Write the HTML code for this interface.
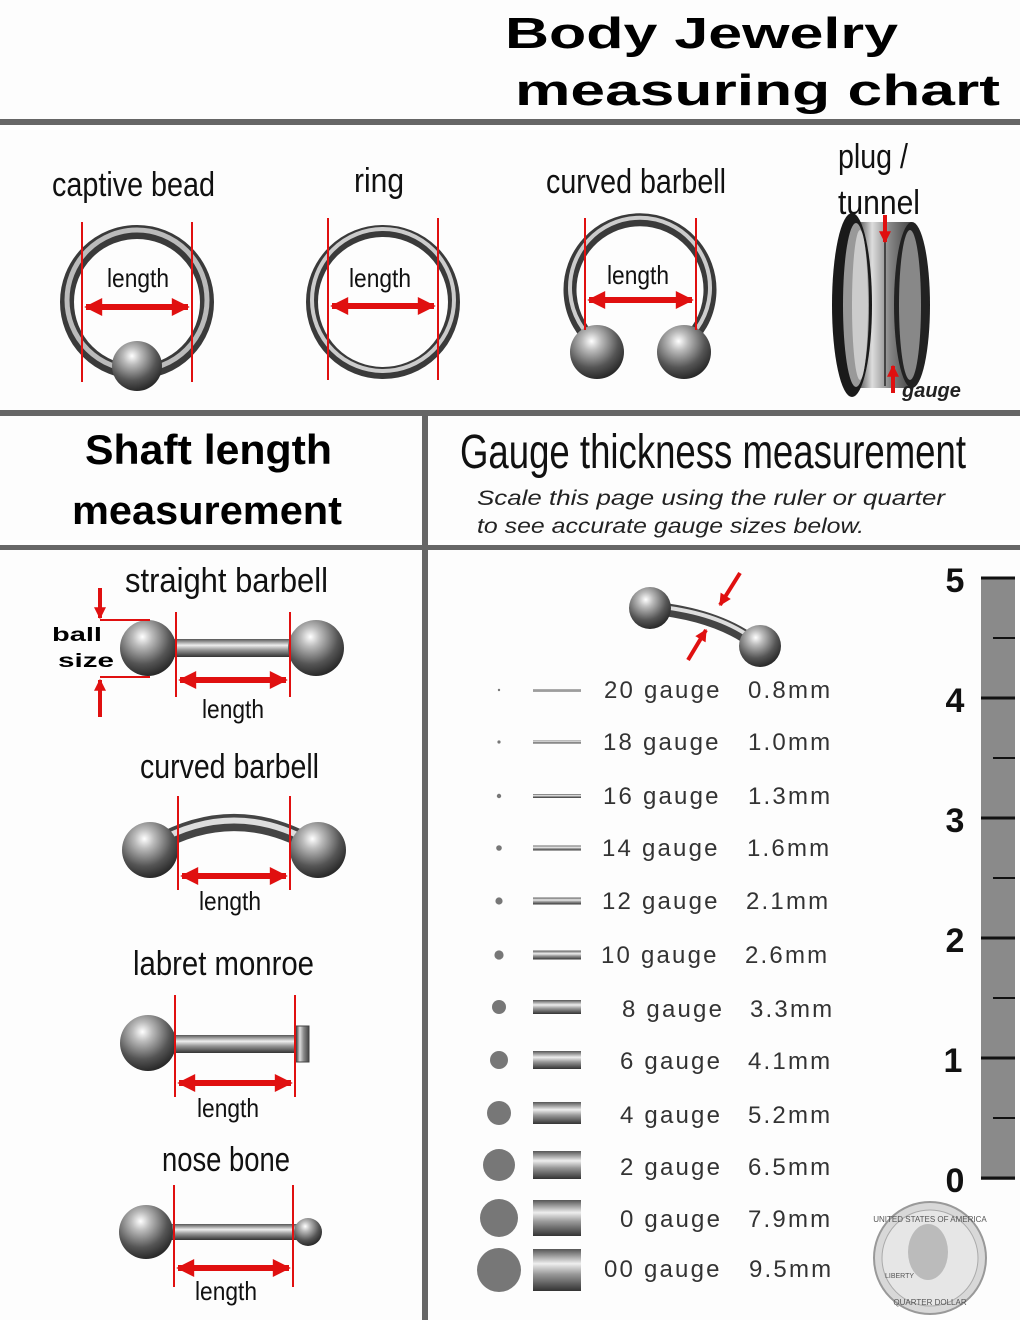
<!DOCTYPE html>
<html><head><meta charset="utf-8"><style>
html,body{margin:0;padding:0;background:#fdfdfd;}
svg{display:block}
.h{font-family:"Liberation Sans Narrow","Liberation Sans",sans-serif;fill:#111;}
.g{font-family:"Liberation Sans",sans-serif;font-size:24px;fill:#333;letter-spacing:2.2px;}
.r{stroke:#e01010;}
</style></head><body>
<svg width="1020" height="1320" viewBox="0 0 1020 1320" xmlns="http://www.w3.org/2000/svg">
<defs>
<radialGradient id="ball" cx="0.4" cy="0.3" r="0.7">
<stop offset="0" stop-color="#fff"/><stop offset="0.25" stop-color="#bbb"/><stop offset="0.7" stop-color="#555"/><stop offset="1" stop-color="#2a2a2a"/></radialGradient>
<linearGradient id="bar" x1="0" y1="0" x2="0" y2="1">
<stop offset="0" stop-color="#555"/><stop offset="0.35" stop-color="#eee"/><stop offset="0.6" stop-color="#999"/><stop offset="1" stop-color="#333"/></linearGradient>
<linearGradient id="plug" x1="0" y1="0" x2="1" y2="0">
<stop offset="0" stop-color="#333"/><stop offset="0.3" stop-color="#ddd"/><stop offset="0.6" stop-color="#888"/><stop offset="1" stop-color="#444"/></linearGradient>
<marker id="ah" viewBox="0 0 10 10" refX="9" refY="5" markerWidth="3.2" markerHeight="3" orient="auto-start-reverse"><path d="M0,0L10,5L0,10z" fill="#e01010"/></marker>
</defs>
<rect width="1020" height="1320" fill="#fdfdfd"/>
<text x="505" y="48" font-family="Liberation Sans,sans-serif" font-weight="bold" font-size="44" textLength="393" lengthAdjust="spacingAndGlyphs">Body Jewelry</text>
<text x="515" y="105" font-family="Liberation Sans,sans-serif" font-weight="bold" font-size="44" textLength="485" lengthAdjust="spacingAndGlyphs">measuring chart</text>
<rect x="0" y="119" width="1020" height="6" fill="#666"/>
<rect x="0" y="410" width="1020" height="6" fill="#666"/>
<rect x="0" y="545" width="1020" height="5" fill="#666"/>
<rect x="422" y="416" width="6" height="904" fill="#666"/>

<text class="h" x="52" y="196" font-size="34" textLength="163" lengthAdjust="spacingAndGlyphs">captive bead</text>
<text class="h" x="354" y="192" font-size="34" textLength="50" lengthAdjust="spacingAndGlyphs">ring</text>
<text class="h" x="546" y="193" font-size="34" textLength="180" lengthAdjust="spacingAndGlyphs">curved barbell</text>
<text class="h" x="838" y="168" font-size="34" textLength="70" lengthAdjust="spacingAndGlyphs">plug /</text>
<text class="h" x="838" y="214" font-size="34" textLength="82" lengthAdjust="spacingAndGlyphs">tunnel</text>

<!-- captive bead -->
<circle cx="137" cy="302" r="70" fill="none" stroke="#3a3a3a" stroke-width="14"/>
<circle cx="137" cy="300" r="70" fill="none" stroke="#bbb" stroke-width="5"/>
<circle cx="137" cy="366" r="25" fill="url(#ball)"/>
<line class="r" x1="82" y1="222" x2="82" y2="382" style="stroke-width:2"/><line class="r" x1="192" y1="222" x2="192" y2="382" style="stroke-width:2"/>
<line class="r" x1="86" y1="307" x2="188" y2="307" style="stroke-width:6" marker-start="url(#ah)" marker-end="url(#ah)"/>
<text class="h" x="107" y="287" font-size="26" textLength="62" lengthAdjust="spacingAndGlyphs">length</text>
<!-- ring -->
<circle cx="383" cy="302" r="71" fill="none" stroke="#3a3a3a" stroke-width="12"/>
<circle cx="383" cy="300" r="71" fill="none" stroke="#ccc" stroke-width="4"/>
<line class="r" x1="328" y1="218" x2="328" y2="380" style="stroke-width:2"/><line class="r" x1="438" y1="218" x2="438" y2="380" style="stroke-width:2"/>
<line class="r" x1="332" y1="306" x2="434" y2="306" style="stroke-width:6" marker-start="url(#ah)" marker-end="url(#ah)"/>
<text class="h" x="349" y="287" font-size="26" textLength="62" lengthAdjust="spacingAndGlyphs">length</text>
<!-- curved barbell top -->
<path d="M597,345 A70,70 0 1 1 683,345" fill="none" stroke="#3a3a3a" stroke-width="13"/>
<path d="M597,343 A70,70 0 1 1 683,343" fill="none" stroke="#ccc" stroke-width="4"/>
<circle cx="597" cy="352" r="27" fill="url(#ball)"/><circle cx="684" cy="352" r="27" fill="url(#ball)"/>
<line class="r" x1="585" y1="218" x2="585" y2="330" style="stroke-width:2"/><line class="r" x1="696" y1="218" x2="696" y2="330" style="stroke-width:2"/>
<line class="r" x1="589" y1="300" x2="692" y2="300" style="stroke-width:6" marker-start="url(#ah)" marker-end="url(#ah)"/>
<text class="h" x="607" y="284" font-size="26" textLength="62" lengthAdjust="spacingAndGlyphs">length</text>
<!-- plug -->
<rect x="855" y="222" width="57" height="166" fill="url(#plug)"/>
<ellipse cx="912" cy="305" rx="18" ry="83" fill="#222"/>
<ellipse cx="910" cy="305" rx="11" ry="75" fill="#888"/>
<ellipse cx="852" cy="305" rx="20" ry="92" fill="#1a1a1a"/>
<ellipse cx="856" cy="305" rx="13" ry="82" fill="#999"/>
<ellipse cx="860" cy="305" rx="8" ry="75" fill="#ccc"/>
<line x1="885" y1="226" x2="885" y2="386" stroke="#444" stroke-width="2"/>
<line x1="885" y1="215" x2="885" y2="242" stroke="#e01010" stroke-width="4" marker-end="url(#ah)"/>
<line x1="893" y1="393" x2="893" y2="366" stroke="#e01010" stroke-width="4" marker-end="url(#ah)"/>
<text x="902" y="397" font-family="Liberation Sans,sans-serif" font-style="italic" font-weight="bold" font-size="20" fill="#222">gauge</text>

<text x="85" y="464" font-family="Liberation Sans,sans-serif" font-weight="bold" font-size="42" textLength="247" lengthAdjust="spacingAndGlyphs">Shaft length</text>
<text x="72" y="524" font-family="Liberation Sans,sans-serif" font-weight="bold" font-size="40" textLength="270" lengthAdjust="spacingAndGlyphs">measurement</text>
<text class="h" x="460" y="468" font-size="48" textLength="506" lengthAdjust="spacingAndGlyphs">Gauge thickness measurement</text>
<text x="477" y="505" font-family="Liberation Sans,sans-serif" font-style="italic" font-size="21" fill="#222" textLength="468" lengthAdjust="spacingAndGlyphs">Scale this page using the ruler or quarter</text>
<text x="477" y="533" font-family="Liberation Sans,sans-serif" font-style="italic" font-size="21" fill="#222" textLength="387" lengthAdjust="spacingAndGlyphs">to see accurate gauge sizes below.</text>

<!-- straight barbell -->
<text class="h" x="125" y="592" font-size="34" textLength="203" lengthAdjust="spacingAndGlyphs">straight barbell</text>
<rect x="170" y="639" width="125" height="18" fill="url(#bar)"/>
<circle cx="148" cy="648" r="28" fill="url(#ball)"/><circle cx="316" cy="648" r="28" fill="url(#ball)"/>
<line class="r" x1="100" y1="620" x2="150" y2="620" style="stroke-width:2"/><line class="r" x1="100" y1="677" x2="150" y2="677" style="stroke-width:2"/>
<line x1="100" y1="588" x2="100" y2="618" stroke="#e01010" stroke-width="4" marker-end="url(#ah)"/>
<line x1="100" y1="717" x2="100" y2="680" stroke="#e01010" stroke-width="4" marker-end="url(#ah)"/>
<text x="52" y="641" font-family="Liberation Sans,sans-serif" font-weight="bold" font-size="19" textLength="50" lengthAdjust="spacingAndGlyphs">ball</text>
<text x="58" y="667" font-family="Liberation Sans,sans-serif" font-weight="bold" font-size="19" textLength="56" lengthAdjust="spacingAndGlyphs">size</text>
<line class="r" x1="176" y1="612" x2="176" y2="697" style="stroke-width:2"/><line class="r" x1="290" y1="612" x2="290" y2="697" style="stroke-width:2"/>
<line class="r" x1="180" y1="680" x2="286" y2="680" style="stroke-width:6" marker-start="url(#ah)" marker-end="url(#ah)"/>
<text class="h" x="202" y="718" font-size="26" textLength="62" lengthAdjust="spacingAndGlyphs">length</text>
<!-- curved barbell -->
<text class="h" x="140" y="778" font-size="34" textLength="179" lengthAdjust="spacingAndGlyphs">curved barbell</text>
<path d="M155,845 Q234,800 313,845" fill="none" stroke="#444" stroke-width="17"/>
<path d="M155,843 Q234,798 313,843" fill="none" stroke="#ddd" stroke-width="6"/>
<circle cx="150" cy="850" r="28" fill="url(#ball)"/><circle cx="318" cy="850" r="28" fill="url(#ball)"/>
<line class="r" x1="178" y1="796" x2="178" y2="890" style="stroke-width:2"/><line class="r" x1="290" y1="796" x2="290" y2="890" style="stroke-width:2"/>
<line class="r" x1="182" y1="876" x2="286" y2="876" style="stroke-width:6" marker-start="url(#ah)" marker-end="url(#ah)"/>
<text class="h" x="199" y="910" font-size="26" textLength="62" lengthAdjust="spacingAndGlyphs">length</text>
<!-- labret -->
<text class="h" x="133" y="975" font-size="34" textLength="181" lengthAdjust="spacingAndGlyphs">labret monroe</text>
<rect x="170" y="1035" width="128" height="18" fill="url(#bar)"/>
<rect x="296" y="1026" width="13" height="36" fill="url(#plug)" stroke="#444"/>
<circle cx="148" cy="1043" r="28" fill="url(#ball)"/>
<line class="r" x1="175" y1="995" x2="175" y2="1097" style="stroke-width:2"/><line class="r" x1="295" y1="995" x2="295" y2="1097" style="stroke-width:2"/>
<line class="r" x1="179" y1="1083" x2="291" y2="1083" style="stroke-width:6" marker-start="url(#ah)" marker-end="url(#ah)"/>
<text class="h" x="197" y="1117" font-size="26" textLength="62" lengthAdjust="spacingAndGlyphs">length</text>
<!-- nose bone -->
<text class="h" x="162" y="1171" font-size="34" textLength="128" lengthAdjust="spacingAndGlyphs">nose bone</text>
<rect x="170" y="1224" width="130" height="16" fill="url(#bar)"/>
<circle cx="146" cy="1232" r="27" fill="url(#ball)"/><circle cx="308" cy="1232" r="14" fill="url(#ball)"/>
<line class="r" x1="174" y1="1185" x2="174" y2="1287" style="stroke-width:2"/><line class="r" x1="293" y1="1185" x2="293" y2="1287" style="stroke-width:2"/>
<line class="r" x1="178" y1="1268" x2="289" y2="1268" style="stroke-width:6" marker-start="url(#ah)" marker-end="url(#ah)"/>
<text class="h" x="195" y="1300" font-size="26" textLength="62" lengthAdjust="spacingAndGlyphs">length</text>

<!-- gauge top barbell -->
<path d="M652,608 Q720,615 757,645" fill="none" stroke="#444" stroke-width="13"/>
<path d="M652,606 Q720,612 757,642" fill="none" stroke="#ddd" stroke-width="4"/>
<circle cx="650" cy="608" r="21" fill="url(#ball)"/><circle cx="760" cy="646" r="21" fill="url(#ball)"/>
<line x1="740" y1="573" x2="720" y2="605" stroke="#e01010" stroke-width="4" marker-end="url(#ah)"/>
<line x1="688" y1="660" x2="706" y2="630" stroke="#e01010" stroke-width="4" marker-end="url(#ah)"/>

<g>
<circle cx="499" cy="690" r="1.2" fill="#777"/><rect x="533" y="689" width="48" height="2.5" fill="url(#bar)"/>
<text class="g" x="604" y="698">20 gauge</text><text class="g" x="748" y="698">0.8mm</text>
<circle cx="499" cy="742" r="1.6" fill="#777"/><rect x="533" y="740.5" width="48" height="3" fill="url(#bar)"/>
<text class="g" x="603" y="750">18 gauge</text><text class="g" x="748" y="750">1.0mm</text>
<circle cx="499" cy="796" r="2.2" fill="#777"/><rect x="533" y="794" width="48" height="4" fill="url(#bar)"/>
<text class="g" x="603" y="804">16 gauge</text><text class="g" x="748" y="804">1.3mm</text>
<circle cx="499" cy="848" r="2.8" fill="#777"/><rect x="533" y="845.5" width="48" height="5" fill="url(#bar)"/>
<text class="g" x="602" y="856">14 gauge</text><text class="g" x="747" y="856">1.6mm</text>
<circle cx="499" cy="901" r="3.6" fill="#777"/><rect x="533" y="897.5" width="48" height="7" fill="url(#bar)"/>
<text class="g" x="602" y="909">12 gauge</text><text class="g" x="746" y="909">2.1mm</text>
<circle cx="499" cy="955" r="4.6" fill="#777"/><rect x="533" y="950.5" width="48" height="9" fill="url(#bar)"/>
<text class="g" x="601" y="963">10 gauge</text><text class="g" x="745" y="963">2.6mm</text>
<circle cx="499" cy="1007" r="7" fill="#777"/><rect x="533" y="1000" width="48" height="14" fill="url(#bar)"/>
<text class="g" x="622" y="1017">8 gauge</text><text class="g" x="750" y="1017">3.3mm</text>
<circle cx="499" cy="1060" r="9" fill="#777"/><rect x="533" y="1051" width="48" height="18" fill="url(#bar)"/>
<text class="g" x="620" y="1069">6 gauge</text><text class="g" x="748" y="1069">4.1mm</text>
<circle cx="499" cy="1113" r="12" fill="#777"/><rect x="533" y="1102" width="48" height="22" fill="url(#bar)"/>
<text class="g" x="620" y="1123">4 gauge</text><text class="g" x="748" y="1123">5.2mm</text>
<circle cx="499" cy="1165" r="16" fill="#777"/><rect x="533" y="1151" width="48" height="28" fill="url(#bar)"/>
<text class="g" x="620" y="1175">2 gauge</text><text class="g" x="748" y="1175">6.5mm</text>
<circle cx="499" cy="1218" r="19" fill="#777"/><rect x="533" y="1200" width="48" height="36" fill="url(#bar)"/>
<text class="g" x="620" y="1227">0 gauge</text><text class="g" x="748" y="1227">7.9mm</text>
<circle cx="499" cy="1270" r="22" fill="#777"/><rect x="533" y="1249" width="48" height="42" fill="url(#bar)"/>
<text class="g" x="604" y="1277">00 gauge</text><text class="g" x="749" y="1277">9.5mm</text>
</g>

<rect x="981" y="578" width="34" height="602" fill="#8a8a8a"/>
<g stroke="#111" stroke-width="3">
<line x1="981" y1="578" x2="1015" y2="578"/><line x1="981" y1="698" x2="1015" y2="698"/>
<line x1="981" y1="818" x2="1015" y2="818"/><line x1="981" y1="938" x2="1015" y2="938"/>
<line x1="981" y1="1058" x2="1015" y2="1058"/><line x1="981" y1="1178" x2="1015" y2="1178"/>
</g>
<g stroke="#111" stroke-width="2">
<line x1="993" y1="638" x2="1015" y2="638"/><line x1="993" y1="758" x2="1015" y2="758"/>
<line x1="993" y1="878" x2="1015" y2="878"/><line x1="993" y1="998" x2="1015" y2="998"/>
<line x1="993" y1="1118" x2="1015" y2="1118"/>
</g>
<g font-family="Liberation Sans,sans-serif" font-weight="bold" font-size="34" fill="#111" text-anchor="middle">
<text x="955" y="592">5</text><text x="955" y="712">4</text><text x="955" y="832">3</text>
<text x="955" y="952">2</text><text x="953" y="1072">1</text><text x="955" y="1192">0</text>
</g>
<circle cx="930" cy="1258" r="56" fill="#d8d8d8" stroke="#999" stroke-width="2"/>
<circle cx="930" cy="1258" r="48" fill="#e6e6e6" stroke="#aaa"/>
<ellipse cx="928" cy="1252" rx="20" ry="28" fill="#bbb"/>
<text x="930" y="1222" font-family="Liberation Sans,sans-serif" font-size="8" text-anchor="middle" fill="#555">UNITED STATES OF AMERICA</text>
<text x="930" y="1305" font-family="Liberation Sans,sans-serif" font-size="8" text-anchor="middle" fill="#555">QUARTER DOLLAR</text>
<text x="885" y="1278" font-family="Liberation Sans,sans-serif" font-size="7" fill="#555">LIBERTY</text>
</svg>
</body></html>
